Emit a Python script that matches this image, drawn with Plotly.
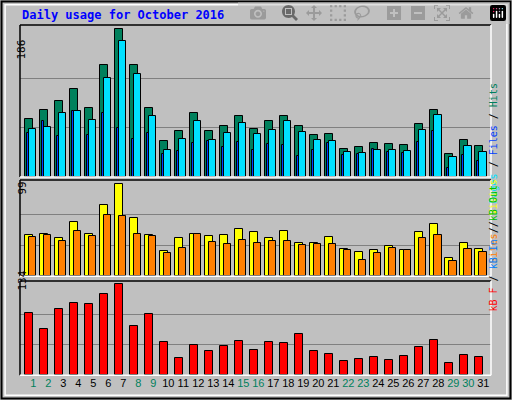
import plotly.graph_objects as go

days = list(range(1, 32))
hits = [73.6, 85, 95.1, 110.3, 86.3, 140.5, 186, 140.5, 86.3, 45.9, 58.5, 80, 58.5, 64.8, 77.4, 61,
        69.9, 77.4, 64.8, 53.4, 54.7, 35.8, 38.3, 43.3, 42.1, 40.8, 67.3, 85, 29.5, 47.1, 39.6]
files = [61, 63.5, 80, 83.7, 72.4, 124.1, 170.8, 129.2, 76.2, 34.5, 48.4, 69.9, 47.1, 56, 68.6, 54.7,
         59.8, 71.1, 57.2, 47.1, 45.9, 32, 30.7, 34.5, 34.5, 33.2, 59.8, 78.7, 25.7, 39.6, 32]
pages = [56, 71.1, 52.2, 82.5, 53.4, 80, 62.3, 48.4, 56, 29.5, 33.2, 43.3, 45.9, 38.3, 44.6, 34.5,
         42.1, 40.8, 26.9, 34.5, 43.3, 28.2, 29.5, 35.8, 32, 30.7, 44.6, 58.5, 11.8, 28.2, 20.6]
visits = [44.1, 45.2, 40.9, 58.1, 45.2, 76.4, 99, 62.4, 44.1, 26.9, 40.9, 45.2, 43, 44.1, 50.6, 47.3,
          40.9, 48.4, 35.5, 35.5, 42, 29.1, 25.8, 28, 32.3, 28, 47.3, 56, 19.4, 35.5, 29.1]
sites = [42, 44.1, 37.7, 48.4, 43, 65.6, 64.6, 45.2, 43, 24.7, 30.1, 45.2, 36.6, 34.4, 38.7, 35.5,
         37.7, 37.7, 33.4, 34.4, 34.4, 28, 17.2, 24.7, 30.1, 28, 40.9, 44.1, 16.1, 29.1, 25.8]
kbytes = [91.3, 67.7, 97.2, 106, 104.5, 119.3, 134, 72.1, 89.8, 48.6, 25, 44.2, 35.3, 42.7, 50.1, 36.8,
          48.6, 47.1, 60.4, 35.3, 30.9, 20.6, 23.6, 26.5, 22.1, 28, 41.2, 51.5, 17.7, 29.4, 26.5]
weekends = [1, 2, 8, 9, 15, 16, 22, 23, 29, 30]

MONO = "DejaVu Sans Mono"
fig = go.Figure()

def bar(y, color, yaxis, offset, width):
    fig.add_trace(go.Bar(x=days, y=y, xaxis="x", yaxis=yaxis, offset=offset, width=width,
                         marker=dict(color=color, line=dict(color="black", width=1)),
                         showlegend=False, hoverinfo="y"))

bar(hits, "#00805c", "y", -0.55, 0.5)
bar(files, "#00e0ff", "y", -0.29, 0.5)
bar(pages, "#0040ff", "y", -0.44, 0.15)
bar(visits, "#ffff00", "y2", -0.55, 0.5)
bar(sites, "#ff8000", "y2", -0.29, 0.5)
bar(kbytes, "#ff0000", "y3", -0.55, 0.5)

ticktext = [f"<span style='color:{'#00805c' if d in weekends else 'black'}'>{d}</span>" for d in days]

def yax(dom, mx, top):
    return dict(domain=dom, range=[0, top], tickvals=[mx / 3, 2 * mx / 3], showticklabels=False,
                showgrid=True, gridcolor="#808080", gridwidth=1, zeroline=False, ticks="")

fig.update_layout(
    width=512, height=400, margin=dict(l=0, r=0, t=0, b=0),
    paper_bgcolor="#c0c0c0", plot_bgcolor="rgba(0,0,0,0)", bargap=0, barmode="overlay",
    font=dict(family=MONO, size=11, color="black"),
    xaxis=dict(domain=[20 / 512, 491 / 512], range=[0.113, 31.51], anchor="y3",
               tickvals=days, ticktext=ticktext, ticks="", showgrid=False, zeroline=False,
               tickfont=dict(family="Liberation Sans", size=11)),
    yaxis=yax([1 - 177 / 400, 1 - 25 / 400], 186, 191.4),
    yaxis2=yax([1 - 276.3 / 400, 1 - 180 / 400], 99, 103.6),
    yaxis3=yax([1 - 375.3 / 400, 1 - 281 / 400], 134, 138.9),
)

# panel bevels and outer frame
for y0, y1 in [(25, 177), (180, 276.3), (281, 375.3)]:
    fig.add_shape(type="line", xref="paper", yref="paper", x0=20 / 512, x1=491 / 512,
                  y0=1 - y0 / 400, y1=1 - y0 / 400, line=dict(color="black", width=1.5))
    fig.add_shape(type="line", xref="paper", yref="paper", x0=20 / 512, x1=20 / 512,
                  y0=1 - y0 / 400, y1=1 - y1 / 400, line=dict(color="black", width=1.5))
    fig.add_shape(type="line", xref="paper", yref="paper", x0=20 / 512, x1=491 / 512,
                  y0=1 - y1 / 400, y1=1 - y1 / 400, line=dict(color="white", width=1.5))
    fig.add_shape(type="line", xref="paper", yref="paper", x0=491 / 512, x1=491 / 512,
                  y0=1 - y0 / 400, y1=1 - y1 / 400, line=dict(color="white", width=1.5))
fig.add_shape(type="rect", xref="paper", yref="paper", x0=0.003, x1=0.997, y0=0.004, y1=0.996,
              line=dict(color="black", width=2))
fig.add_shape(type="rect", xref="paper", yref="paper", x0=0.01, x1=0.99, y0=0.012, y1=0.988,
              line=dict(color="white", width=1.5))

fig.add_annotation(text="<b>Daily usage for October 2016</b>", xref="paper", yref="paper",
                   x=20 / 512, y=1 - 15 / 400, xanchor="left", yanchor="middle", showarrow=False,
                   font=dict(family=MONO, size=12, color="#0000ff"))
for txt, yc in [("186", 38), ("99", 188), ("134", 293)]:
    fig.add_annotation(text=txt, xref="paper", yref="paper", x=13 / 512, y=1 - yc / 400,
                       textangle=-90, showarrow=False, font=dict(family=MONO, size=11))
for txt, yc in [("<span style='color:#00e0ff'>Pages</span> / <span style='color:#0040ff'>Files</span>"
                 " / <span style='color:#00805c'>Hits</span>", 82),
                ("<span style='color:#ff8000'>Sites</span> / <span style='color:#ffff00'>Visits</span>", 222),
                ("<span style='color:#ff0000'>kB F</span> / <span style='color:#0080ff'>kB In</span>"
                 " / <span style='color:#00c000'>kB Out</span>", 314)]:
    fig.add_annotation(text=txt, xref="paper", yref="paper", x=500 / 512, y=1 - yc / 400,
                       textangle=-90, showarrow=False, font=dict(family=MONO, size=10, color="black"))

fig.write_html("out.html", post_script="document.body.style.margin='0';")
